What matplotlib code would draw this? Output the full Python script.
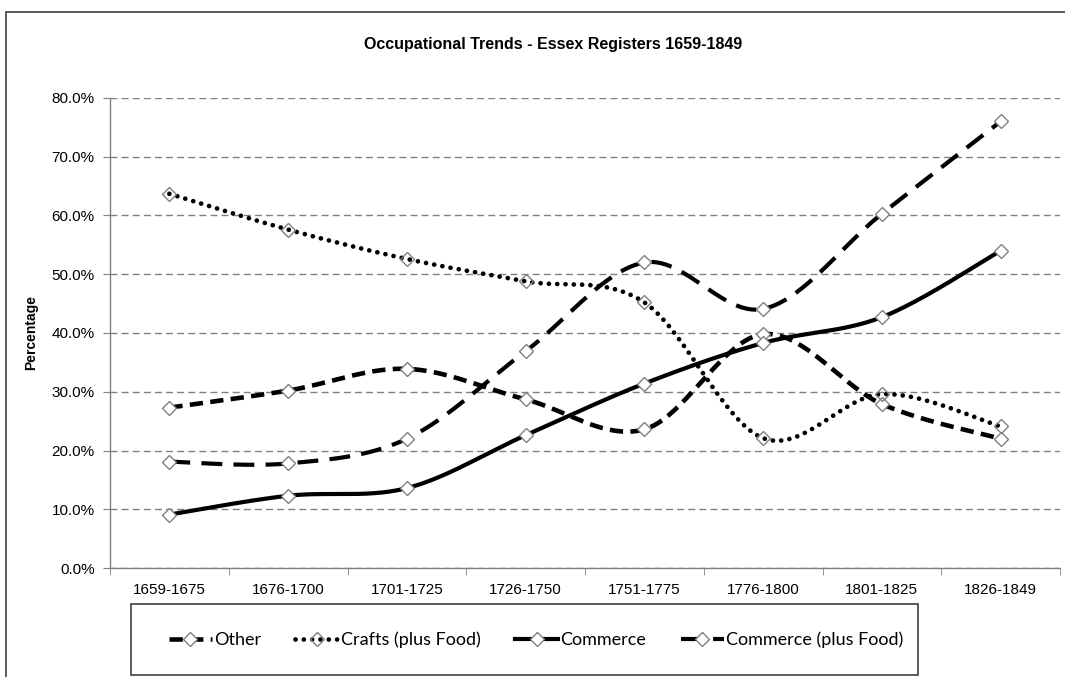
import numpy as np
import matplotlib.pyplot as plt
from matplotlib.patches import Rectangle
from matplotlib.ticker import FixedLocator, PercentFormatter
from matplotlib.legend_handler import HandlerTuple

plt.rcParams['font.family'] = ['Liberation Sans', 'DejaVu Sans']

periods = ["1659-1675", "1676-1700", "1701-1725", "1726-1750",
           "1751-1775", "1776-1800", "1801-1825", "1826-1849"]
other = [27.3, 30.2, 33.9, 28.7, 23.6, 39.8, 27.9, 22.0]
crafts = [63.7, 57.6, 52.6, 48.8, 45.2, 22.1, 29.6, 24.1]
commerce = [9.1, 12.3, 13.6, 22.6, 31.4, 38.3, 42.7, 54.0]
commerce_food = [18.1, 17.8, 22.0, 36.9, 52.0, 44.1, 60.3, 76.0]


def smooth(xs, ys, n=40):
    # Excel-style smoothed line (Catmull-Rom through Bezier segments)
    p = np.column_stack([xs, ys]).astype(float)
    out = [p[:1]]
    for i in range(len(p) - 1):
        a = p[max(i - 1, 0)]
        b = p[i]
        c = p[i + 1]
        d = p[min(i + 2, len(p) - 1)]
        c1 = b + (c - a) / 6
        c2 = c - (d - b) / 6
        t = np.linspace(0, 1, n)[1:, None]
        seg = ((1 - t) ** 3) * b + 3 * ((1 - t) ** 2) * t * c1 + 3 * (1 - t) * t ** 2 * c2 + t ** 3 * c
        out.append(seg)
    s = np.vstack(out)
    return s[:, 0], s[:, 1]


fig = plt.figure(figsize=(10.65, 6.77), dpi=100)
ax = fig.add_axes([110 / 1065, 109 / 677, 950 / 1065, 470 / 677])

x = np.arange(len(periods))
grey = '#808080'

series = [
    ("Other", other, dict(lw=3.3, dashes=(2.9, 1.6), dash_capstyle='butt'), 'white'),
    ("Crafts (plus Food)", crafts, dict(lw=3.4, dashes=(0.01, 1.75), dash_capstyle='round'), 'none'),
    ("Commerce", commerce, dict(lw=3.0, linestyle='-'), 'white'),
    ("Commerce (plus Food)", commerce_food, dict(lw=3.0, dashes=(5.0, 2.7), dash_capstyle='butt'), 'white'),
]

handles = []
labels = []
for name, vals, style, face in series:
    sx, sy = smooth(x, vals)
    ln, = ax.plot(sx, sy, color='black', **style)
    mk, = ax.plot(x, vals, linestyle='none', marker='D', ms=7.5,
                  markerfacecolor=face, markeredgecolor=grey, markeredgewidth=1.0)
    handles.append((ln, mk))
    labels.append(name)

ax.set_xlim(-0.5, len(periods) - 0.5)
ax.set_ylim(0, 80)
ax.set_xticks(x)
ax.set_xticklabels(periods, fontsize=11)
ax.xaxis.set_minor_locator(FixedLocator(np.arange(-0.5, len(periods), 1.0)))
ax.tick_params(axis='x', which='major', length=0, pad=11)
ax.tick_params(axis='x', which='minor', length=5, color=grey, direction='out')
ax.set_yticks(np.arange(0, 81, 10))
ax.yaxis.set_major_formatter(PercentFormatter(decimals=1))
ax.tick_params(axis='y', length=5, color=grey, direction='out', labelsize=11, pad=6)

ax.yaxis.grid(True, color=grey, linestyle=(0, (5, 3)), linewidth=1)
ax.set_axisbelow(True)
for side in ['top', 'right']:
    ax.spines[side].set_visible(False)
for side in ['left', 'bottom']:
    ax.spines[side].set_color(grey)
    ax.spines[side].set_linewidth(1)

ax.set_ylabel("Percentage", fontsize=10, fontweight='bold')
ax.yaxis.set_label_coords(-72 / 950, 0.5)

fig.text(553 / 1065, 1 - 44 / 677, "Occupational Trends - Essex Registers 1659-1849",
         ha='center', va='center', fontsize=11.5, fontweight='bold')

# chart border (cut off at right and bottom)
fig.patches.append(Rectangle((6 / 1065, -0.1), 1.2, 1 - 12 / 677 + 0.1,
                             transform=fig.transFigure, fill=False,
                             edgecolor='#404040', lw=1.2))
# legend box
fig.patches.append(Rectangle((131 / 1065, 2 / 677), 787 / 1065, 71 / 677,
                             transform=fig.transFigure, fill=False,
                             edgecolor='#404040', lw=1.2))

fig.legend(handles, labels, handler_map={tuple: HandlerTuple(ndivide=1)},
           loc='center', bbox_to_anchor=(536 / 1065, 1 - 640 / 677), ncol=4,
           frameon=False, prop={'family': 'Lato', 'size': 13},
           handlelength=2.4, handletextpad=0.12, columnspacing=1.9)

fig.savefig("out.png", dpi=100)
